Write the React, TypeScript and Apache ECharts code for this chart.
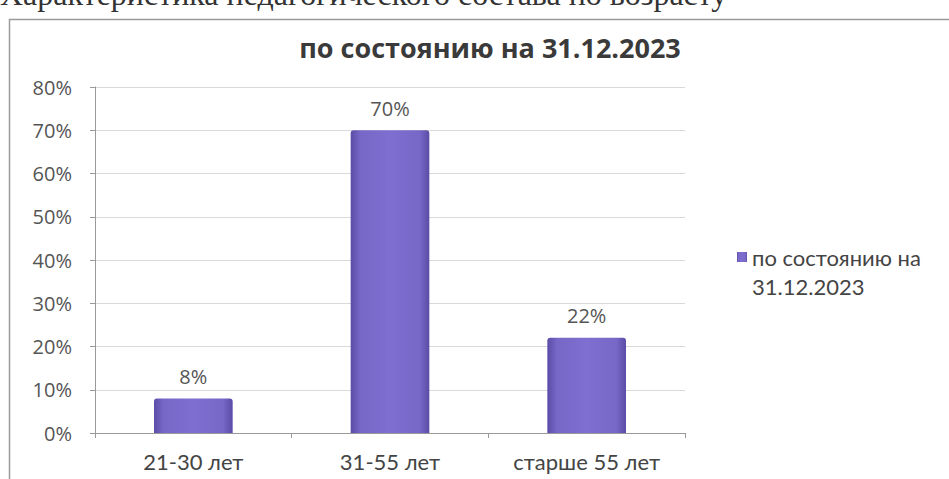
import React, { useEffect, useRef } from "react";
import * as echarts from "echarts";

const categories = ["21-30 лет", "31-55 лет", "старше 55 лет"];
const values = [8, 70, 22];
const yTicks = [0, 10, 20, 30, 40, 50, 60, 70, 80];
const seriesName = "по состоянию на 31.12.2023";
const legendLine1 = "по состоянию на";
const legendLine2 = "31.12.2023";
const chartTitle = "по состоянию на 31.12.2023";
const pageHeading = "Характеристика педагогического состава по возрасту";

export default function App() {
  const ref = useRef<HTMLDivElement>(null);
  useEffect(() => {
    if (!ref.current) return;
    const chart = echarts.init(ref.current, null, { renderer: "svg" });
    const font = "Lato, 'Open Sans', sans-serif";
    const numFont = "'Open Sans', sans-serif";
    chart.setOption({
      animation: false,
      backgroundColor: "#ffffff",
      title: {
        text: chartTitle,
        left: 485,
        top: 29,
        textAlign: "center",
        textStyle: { fontFamily: "'Open Sans', sans-serif", fontSize: 27, fontWeight: "bold", color: "#3a3a3a" },
      },
      graphic: [
        {
          type: "rect",
          shape: { x: 9.5, y: 19.5, width: 960, height: 500 },
          style: { fill: "none", stroke: "#9a9a9a", lineWidth: 1.5 },
          silent: true,
        },
        {
          type: "text",
          x: 0,
          y: -22,
          style: {
            text: pageHeading,
            font: "32px 'Liberation Serif', 'DejaVu Serif', serif",
            fill: "#333",
            verticalAlign: "top",
          },
          silent: true,
        },
        {
          type: "text",
          x: 752,
          y: 286,
          style: {
            text: legendLine2,
            font: "22px Lato, 'Open Sans', sans-serif",
            fill: "#444",
            verticalAlign: "middle",
          },
          silent: true,
        },
      ],
      legend: {
        data: [seriesName],
        left: 732,
        top: 239,
        orient: "vertical",
        icon: "rect",
        itemWidth: 10,
        itemHeight: 10,
        itemGap: 5,
        formatter: () => legendLine1,
        textStyle: { fontFamily: font, fontSize: 22, color: "#444", lineHeight: 26 },
      },
      grid: { left: 95, right: 264, top: 87, bottom: 46 },
      xAxis: {
        type: "category",
        data: categories,
        axisLine: { lineStyle: { color: "#9a9a9a" } },
        axisTick: { show: true, length: 5, lineStyle: { color: "#9a9a9a" } },
        axisLabel: { fontFamily: font, fontSize: 22, color: "#444", margin: 17 },
      },
      yAxis: {
        type: "value",
        min: 0,
        max: 80,
        interval: 10,
        axisLine: { show: true, lineStyle: { color: "#9a9a9a" } },
        axisTick: { show: true, length: 5, inside: false, lineStyle: { color: "#9a9a9a" } },
        axisLabel: {
          fontFamily: numFont,
          fontSize: 20,
          color: "#555",
          margin: 23,
          formatter: (v: number) => (yTicks.includes(v) ? v + "%" : ""),
        },
        splitLine: { lineStyle: { color: "#d9d9d9" } },
      },
      series: [
        {
          name: seriesName,
          type: "bar",
          data: values,
          barWidth: "40%",
          itemStyle: {
            color: new echarts.graphic.LinearGradient(0, 0, 1, 0, [
              { offset: 0, color: "#5b4ca6" },
              { offset: 0.12, color: "#7767c6" },
              { offset: 0.5, color: "#7e6fd0" },
              { offset: 0.88, color: "#7767c6" },
              { offset: 1, color: "#5b4ca6" },
            ]),
            borderRadius: [3, 3, 0, 0],
          },
          label: {
            show: true,
            position: "top",
            distance: 12,
            formatter: (p: any) => p.value + "%",
            fontFamily: numFont,
            fontSize: 20,
            color: "#555",
          },
        },
      ],
    });
    return () => chart.dispose();
  }, []);
  return (
    <div
      ref={ref}
      style={{ position: "absolute", left: 0, top: 0, width: 949, height: 479 }}
    />
  );
}
